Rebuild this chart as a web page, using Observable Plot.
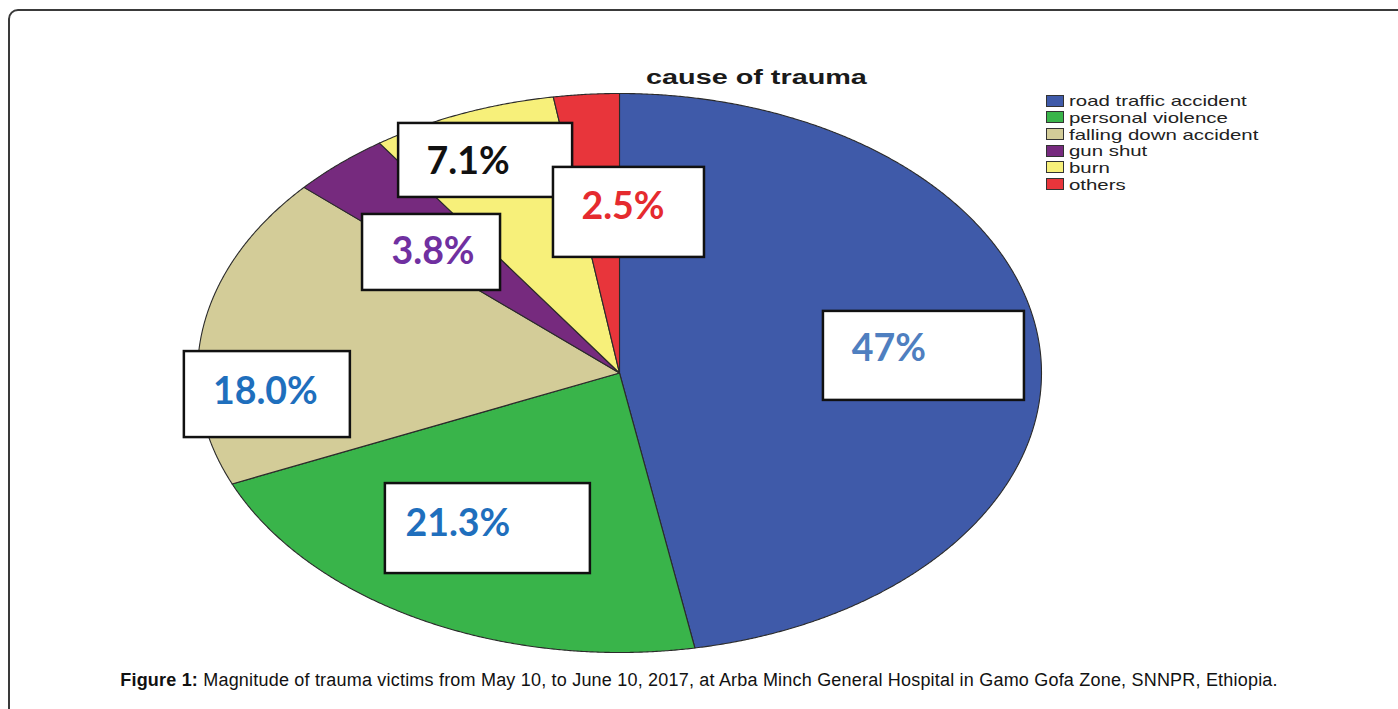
<!DOCTYPE html>
<html><head><meta charset="utf-8">
<script src="https://cdn.jsdelivr.net/npm/d3@7"></script>
<script src="https://cdn.jsdelivr.net/npm/@observablehq/plot@0.6"></script>
<style>
body{margin:0;background:#fff;}
#wrap{position:relative;width:1398px;height:709px;overflow:hidden;font-family:"Liberation Sans",Arial,sans-serif;background:#fff;}
#frame{position:absolute;left:8px;top:9px;width:1430px;height:760px;border:2px solid #3a3a3a;border-radius:10px;box-sizing:border-box;}
#chart{position:absolute;left:0;top:0;}
#title{position:absolute;left:646px;top:67px;font-weight:bold;font-size:20px;line-height:20px;transform:scaleX(1.44);transform-origin:left top;white-space:nowrap;color:#1a1a1a;}
.sw{position:absolute;left:1046px;width:18px;height:12px;border:1px solid #333;box-sizing:border-box;}
.lt{position:absolute;left:1069px;font-size:15px;line-height:16.7px;transform:scaleX(1.36);transform-origin:left top;white-space:nowrap;color:#222;}
#caption{position:absolute;left:0;width:1398px;text-align:center;top:670px;font-size:18px;letter-spacing:0.2px;line-height:20px;color:#111;white-space:nowrap;}
</style>
</head><body>
<div id="wrap">
  <div id="frame"></div>
  <div id="chart"></div>
  <div id="title">cause of trauma</div>
  <div id="legend"></div>
  <div id="caption"><b>Figure 1:</b> Magnitude of trauma victims from May 10, to June 10, 2017, at Arba Minch General Hospital in Gamo Gofa Zone, SNNPR, Ethiopia.</div>
</div>
<script>
// ---- data ----
const causes = ["road traffic accident","personal violence","falling down accident","gun shut","burn","others"];
const percents = [47, 21.3, 18.0, 3.8, 7.1, 2.5];
const labels = ["47%","21.3%","18.0%","3.8%","7.1%","2.5%"];

// ---- styles / layout ----
const sliceColors = ["#3f5aa9","#39b44a","#d3cc98","#762a7e","#f7f07a","#e8353b"];
const labelColors = ["#4f7fc0","#1f6fbd","#1f6fbd","#7030a0","#111111","#e52b2f"];
const R = {cx:619, cy:372.5, rx:422, ry:279.5};
// r: radial position of box centre, da: angular nudge (deg), w/h box size px, tdx/tdy text offset px
const labelLayout = [
  {r:0.724, da:0.3,   w:201, h:89, tdx:-35, tdy:-7},
  {r:0.638, da:1.1,   w:205, h:90, tdx:-30, tdy:-4.5},
  {r:0.838, da:-14.4, w:166, h:86, tdx:-2,  tdy:-3},
  {r:0.620, da:-4.4,  w:138, h:76, tdx:1.5, tdy:0},
  {r:0.824, da:-0.8,  w:174, h:74, tdx:-17.5, tdy:1.5},
  {r:0.575, da:6.75,  w:151, h:90, tdx:-6,  tdy:-5.5}
];

const arcs = d3.pie().sort(null).value(d => d)(percents);
const slicePts = [];
arcs.forEach((a, i) => {
  const c = causes[i];
  slicePts.push({cause:c, x:0, y:0});
  const n = Math.max(2, Math.ceil((a.endAngle - a.startAngle) / (0.25 * Math.PI / 180)));
  for (let k = 0; k <= n; k++) {
    const t = a.startAngle + (a.endAngle - a.startAngle) * k / n;
    slicePts.push({cause:c, x:Math.sin(t), y:-Math.cos(t)});
  }
  slicePts.push({cause:c, x:0, y:0});
});

const boxes = arcs.map((a, i) => {
  const L = labelLayout[i];
  const mid = (a.startAngle + a.endAngle) / 2 + L.da * Math.PI / 180;
  const cx = L.r * Math.sin(mid), cy = -L.r * Math.cos(mid);
  const hw = L.w / 2 / R.rx, hh = L.h / 2 / R.ry;
  return {label:labels[i], color:labelColors[i], x1:cx-hw, x2:cx+hw, y1:cy-hh, y2:cy+hh,
          tx:cx + L.tdx / R.rx, ty:cy + L.tdy / R.ry};
});

const plot = Plot.plot({
  width:1398, height:709, margin:0,
  style:{background:"transparent", overflow:"visible"},
  x:{domain:[-1,1], range:[R.cx-R.rx, R.cx+R.rx], axis:null},
  y:{domain:[-1,1], range:[R.cy-R.ry, R.cy+R.ry], axis:null},
  color:{domain:causes, range:sliceColors},
  marks:[
    Plot.line(slicePts, {x:"x", y:"y", z:"cause", fill:"cause", stroke:"#2b2b2b", strokeWidth:1.1, strokeLinejoin:"round"}),
    Plot.rect(boxes, {x1:"x1", x2:"x2", y1:"y1", y2:"y2", fill:"white", stroke:"#111", strokeWidth:2.5}),
    ...boxes.map(b => Plot.text([b], {x:"tx", y:"ty", text:"label", fill:b.color, fontFamily:"Lato", fontWeight:"bold", fontSize:37.5}))
  ]
});
document.getElementById("chart").appendChild(plot);

// legend from the plot's colour scale
const cs = plot.scale("color");
const leg = document.getElementById("legend");
cs.domain.forEach((c, i) => {
  const sw = document.createElement("div");
  sw.className = "sw";
  sw.style.top = (94.5 + 16.7 * i) + "px";
  sw.style.background = cs.range[i];
  leg.appendChild(sw);
  const t = document.createElement("div");
  t.className = "lt";
  t.style.top = (93.2 + 16.7 * i) + "px";
  t.textContent = c;
  leg.appendChild(t);
});
</script>
</body></html>
